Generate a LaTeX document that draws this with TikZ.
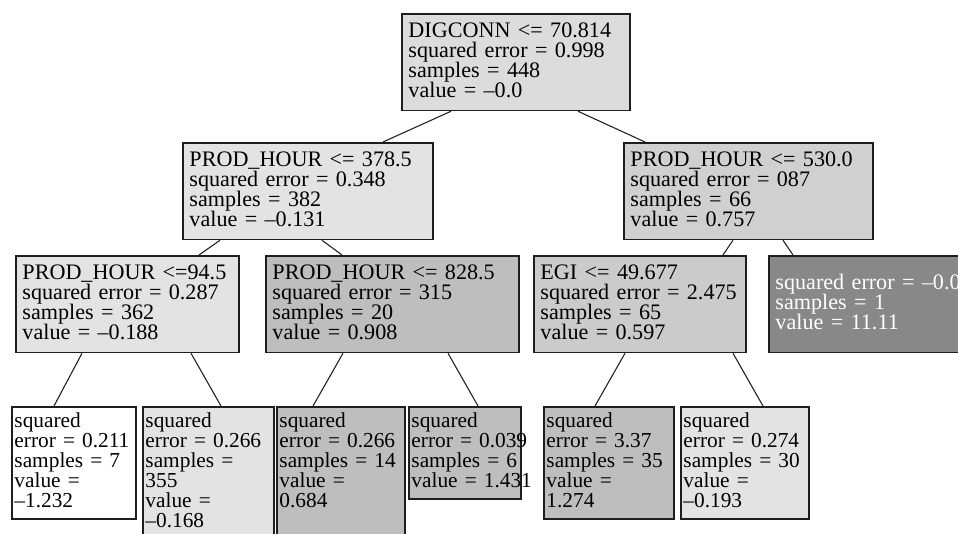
\documentclass[tikz,border=0pt]{standalone}
\usepackage{fontspec}
\setmainfont{Liberation Serif}
\usetikzlibrary{calc}
\definecolor{boxline}{RGB}{30,30,30}
\definecolor{rootfill}{RGB}{220,220,220}
\definecolor{palefill}{RGB}{227,227,227}
\definecolor{midfill}{RGB}{208,208,208}
\definecolor{egifill}{RGB}{203,203,203}
\definecolor{greyfill}{RGB}{190,190,190}
\definecolor{deepfill}{RGB}{136,136,136}
\newcommand\splitfont{\fontsize{16.6}{15}\selectfont\setbox\strutbox\hbox{\vrule height 11.4pt depth 3.6pt width 0pt}}
\newcommand\leaffont{\fontsize{16}{15}\selectfont\setbox\strutbox\hbox{\vrule height 11.2pt depth 3.8pt width 0pt}}
\newcommand\nodelines[1]{\begin{tabular}[t]{@{}l@{}}#1\end{tabular}}

\begin{document}
\begin{tikzpicture}[x=0.75pt, y=-0.75pt,
  split/.style={draw=boxline, line width=1.2pt, anchor=north west, align=left, inner xsep=5pt, inner ysep=6pt, minimum height=72.5pt, font=\splitfont},
  leaf/.style={draw=boxline, line width=1.2pt, anchor=north west, align=left, inner xsep=2pt, inner ysep=4.5pt, font=\leaffont},
  edge/.style={draw=boxline, line width=0.8pt}]
  \path[fill=white, use as bounding box] (0,0) rectangle (958,534);
  \clip (0,0) rectangle (958,534);
  % root and first split
  \node[split, fill=rootfill, text width=161pt] (root) at (401,13) {\nodelines{DIGCONN <= 70.814\\squared error = 0.998\\samples = 448\\value = –0.0}};
  \node[split, fill=palefill, text width=177.5pt] (c1) at (182,142) {\nodelines{PROD\_HOUR <= 378.5\\squared error = 0.348\\samples = 382\\value = –0.131}};
  \node[split, fill=midfill, text width=176.75pt] (c2) at (623,142) {\nodelines{PROD\_HOUR <= 530.0\\squared error = 087\\samples = 66\\value = 0.757}};
  % second level
  \node[split, fill=palefill, text width=157.25pt] (c11) at (15,255) {\nodelines{PROD\_HOUR <=94.5\\squared error = 0.287\\samples = 362\\value = –0.188}};
  \node[split, fill=greyfill, text width=179.75pt] (c12) at (265,255) {\nodelines{PROD\_HOUR <= 828.5\\squared error = 315\\samples = 20\\value = 0.908}};
  \node[split, fill=egifill, text width=149pt] (c21) at (533,255) {\nodelines{EGI <= 49.677\\squared error = 2.475\\samples = 65\\value = 0.597}};
  \node[split, fill=deepfill, text=white, text width=162.5pt] (c22) at (768,255) {\nodelines{squared error = –0.0\\samples = 1\\value = 11.11}};
  % leaves
  \node[leaf, fill=white, text width=89pt] (l1) at (11,406) {\nodelines{squared\\error = 0.211\\samples = 7\\value =\\–1.232}};
  \node[leaf, fill=palefill, text width=94.25pt] (l2) at (142,406) {\nodelines{squared\\error = 0.266\\samples =\\355\\value =\\–0.168}};
  \node[leaf, fill=greyfill, text width=92pt, text depth=78.8pt] (l3) at (276,406) {\nodelines{squared\\error = 0.266\\samples = 14\\value =\\0.684}};
  \node[leaf, fill=greyfill, text width=80pt] (l4) at (408,406) {\nodelines{squared\\error = 0.039\\samples = 6\\value = 1.431}};
  \node[leaf, fill=greyfill, text width=93.5pt] (l5) at (543,406) {\nodelines{squared\\error = 3.37\\samples = 35\\value =\\1.274}};
  \node[leaf, fill=palefill, text width=92pt] (l6) at (680,406) {\nodelines{squared\\error = 0.274\\samples = 30\\value =\\–0.193}};
  % connectors
  \draw[edge] ($(root.south west)+(50,0)$) -- ($(c1.north west)+(201,0)$);
  \draw[edge] ($(root.south west)+(177,0)$) -- ($(c2.north west)+(22,0)$);
  \draw[edge] ($(c1.south west)+(38,0)$) -- ($(c11.north west)+(184,0)$);
  \draw[edge] ($(c1.south west)+(140,0)$) -- ($(c12.north west)+(77,0)$);
  \draw[edge] ($(c2.south west)+(110,0)$) -- ($(c21.north west)+(190,0)$);
  \draw[edge] ($(c2.south west)+(160,0)$) -- ($(c22.north west)+(25,0)$);
  \draw[edge] ($(c11.south west)+(67,0)$) -- ($(l1.north west)+(43,0)$);
  \draw[edge] ($(c11.south west)+(176,0)$) -- ($(l2.north west)+(79,0)$);
  \draw[edge] ($(c12.south west)+(78,0)$) -- ($(l3.north west)+(37,0)$);
  \draw[edge] ($(c12.south west)+(183,0)$) -- ($(l4.north west)+(70,0)$);
  \draw[edge] ($(c21.south west)+(92,0)$) -- ($(l5.north west)+(52,0)$);
  \draw[edge] ($(c21.south west)+(200,0)$) -- ($(l6.north west)+(83,0)$);
\end{tikzpicture}
\end{document}
